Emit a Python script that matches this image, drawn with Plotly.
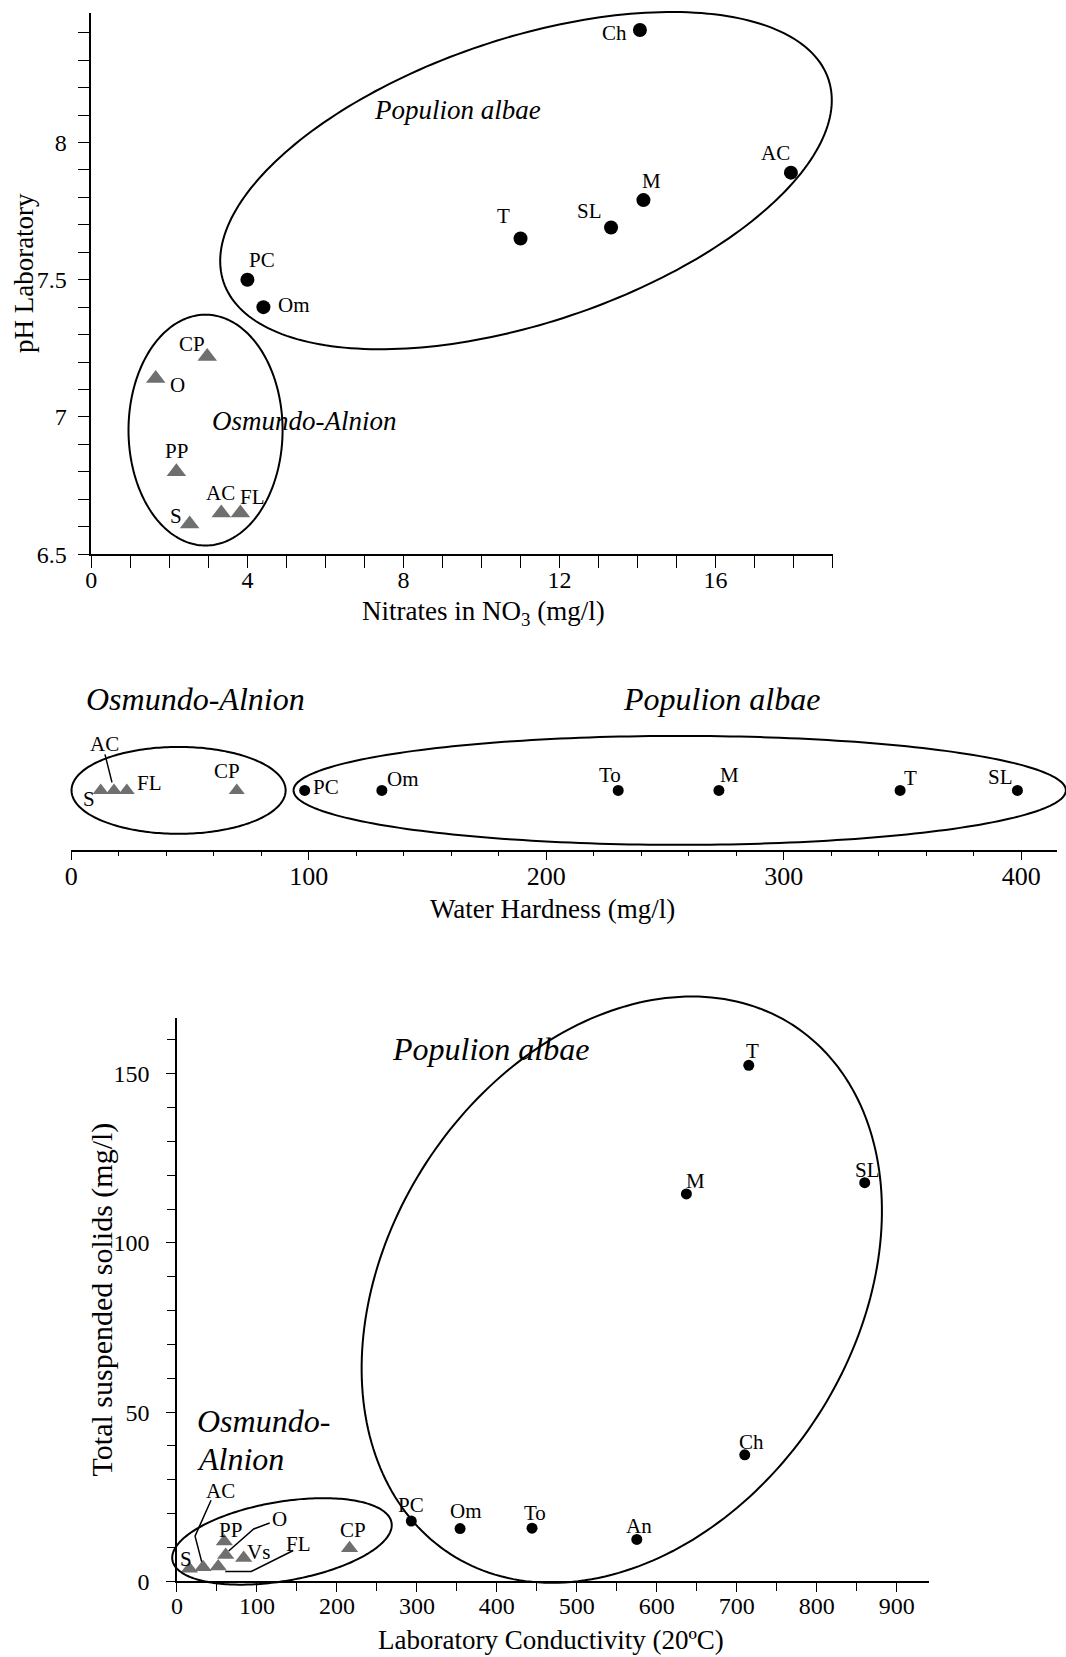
import numpy as np
import plotly.graph_objects as go

# target canvas (reference) and figure canvas
W, H = 1066, 1657
WF, HF = 1066, 1669
S, OX, OY = 0.993, 5.5, -1.0   # observed render scale/offset compensation
FONT = "Liberation Serif"
GRAY = "#6f6f6f"

# ---------------- data: top panel (nitrates vs pH) ----------------
top_pa_sites = ["Ch", "AC", "M", "SL", "T", "PC", "Om"]
top_pa_no3 = [14.06, 17.93, 14.15, 13.32, 11.0, 4.0, 4.41]
top_pa_ph = [8.41, 7.89, 7.79, 7.69, 7.65, 7.5, 7.4]
top_oa_sites = ["CP", "O", "PP", "S", "AC", "FL"]
top_oa_no3 = [2.97, 1.65, 2.18, 2.52, 3.33, 3.82]
top_oa_ph = [7.22, 7.14, 6.8, 6.61, 6.65, 6.65]

# ---------------- data: middle panel (water hardness) ----------------
mid_oa_sites = ["S", "AC", "FL", "CP"]
mid_oa_hard = [12.4, 18.0, 23.4, 69.7]
mid_pa_sites = ["PC", "Om", "To", "M", "T", "SL"]
mid_pa_hard = [98.3, 130.8, 230.3, 272.7, 349.0, 398.4]

# ---------------- data: bottom panel (conductivity vs TSS) ----------------
bot_oa_sites = ["S", "AC", "FL", "O", "PP", "Vs", "CP"]
bot_oa_cond = [15.5, 32.6, 51.6, 60.9, 59.2, 83.4, 215.8]
bot_oa_tss = [3.7, 4.2, 4.4, 7.8, 11.8, 6.9, 9.8]
bot_pa_sites = ["PC", "Om", "To", "An", "Ch", "M", "T", "SL"]
bot_pa_cond = [293, 354, 444, 575, 710, 637, 715, 860]
bot_pa_tss = [17.8, 15.6, 15.7, 12.4, 37.4, 114.5, 152.5, 117.8]

# ---------------- layout geometry (target pixels) ----------------
P = {
    "top": dict(x0=89.8, x1=830.8, yt=12.5, yb=553.6, xr=(0, 19), yr=(6.5, 8.47), ax="x", ay="y"),
    "mid": dict(x0=69.7, x1=1054.9, yt=680, yb=849.4, xr=(0, 415), yr=(-0.3506, 0.6494), ax="x2", ay="y2"),
    "bot": dict(x0=175.4, x1=926.8, yt=1017.4, yb=1581.6, xr=(0, 940), yr=(0, 166.6), ax="x3", ay="y3"),
}

# label offsets in pixels (dx right, dy down)
top_pa_off = [(-25, 3), (-15, -20), (8, -19), (-21, -16), (-17, -22), (14, -20), (30, -2)]
top_oa_off = [(-15, -12), (22, 6), (0, -21), (-14, -8), (-1, -20), (12, -16)]
mid_oa_off = [(-12, 9), (-9, -46), (23, -7), (-10, -19)]
mid_pa_off = [(21, -3), (21, -11), (-8, -15), (11, -15), (10, -12), (-17, -13)]
bot_oa_off = [(-3, -10), (17, -76), (80, -22), (53, -36), (6, -11), (15, -6), (3, -18)]
bot_pa_off = [(0, -16), (6, -17), (3, -15), (2, -13), (7, -13), (9, -13), (4, -14), (3, -13)]


def fx(t):
    return (t - OX) / S


def fy(t):
    return (t - OY) / S


def geom(p):
    ppx = (p["x1"] - p["x0"]) / (p["xr"][1] - p["xr"][0])
    ppy = (p["yb"] - p["yt"]) / (p["yr"][1] - p["yr"][0])
    return ppx, ppy


def to_paper(p, xs, ys):
    ppx, ppy = geom(p)
    tx = p["x0"] + (np.asarray(xs) - p["xr"][0]) * ppx
    ty = p["yb"] - (np.asarray(ys) - p["yr"][0]) * ppy
    return fx(tx) / WF, 1 - fy(ty) / HF


def ellipse(p, cx, cy, a, b, theta):
    ppx, ppy = geom(p)
    t = np.linspace(0, 2 * np.pi, 241)
    th = np.radians(theta)
    dx = a * np.cos(th) * np.cos(t) - b * np.sin(th) * np.sin(t)
    dy = a * np.sin(th) * np.cos(t) + b * np.cos(th) * np.sin(t)
    return cx + dx / ppx, cy + dy / ppy


def leader(p, x, y, pts):
    ppx, ppy = geom(p)
    return [x + dx / ppx for dx, dy in pts], [y - dy / ppy for dx, dy in pts]


fig = go.Figure()
annotations = []
shapes = []


def add_points(panel, xs, ys, sites, offs, symbol, size, color):
    p = P[panel]
    fig.add_trace(go.Scatter(x=xs, y=ys, mode="markers", xaxis=p["ax"], yaxis=p["ay"],
                             marker=dict(symbol=symbol, size=size, color=color, line=dict(width=0)),
                             cliponaxis=False, showlegend=False, hoverinfo="skip"))
    for x, y, s, (dx, dy) in zip(xs, ys, sites, offs):
        annotations.append(dict(x=x, y=y, xref=p["ax"], yref=p["ay"], text=s, showarrow=False,
                                xshift=dx / S, yshift=-dy / S, font=dict(family=FONT, size=21, color="black")))


def add_ellipse(panel, cx, cy, a, b, theta):
    # drawn in paper coordinates so that it is not clipped by the plot area
    p = P[panel]
    ex, ey = ellipse(p, cx, cy, a, b, theta)
    px_, py_ = to_paper(p, ex, ey)
    path = "M " + " L ".join(f"{u:.5f},{v:.5f}" for u, v in zip(px_, py_)) + " Z"
    shapes.append(dict(type="path", xref="paper", yref="paper", path=path,
                       line=dict(color="black", width=2), fillcolor="rgba(0,0,0,0)", layer="above"))


def add_leader(panel, x, y, pts):
    p = P[panel]
    lx, ly = leader(p, x, y, pts)
    fig.add_trace(go.Scatter(x=lx, y=ly, mode="lines", xaxis=p["ax"], yaxis=p["ay"],
                             line=dict(color="black", width=1.5), cliponaxis=False,
                             showlegend=False, hoverinfo="skip"))


# ---- top panel
add_ellipse("top", 11.14, 7.861, 318.9, 142.2, 18.57)
add_ellipse("top", 2.927, 6.952, 77, 115.5, 0)
add_points("top", top_pa_no3, top_pa_ph, top_pa_sites, top_pa_off, "circle", 14, "black")
add_points("top", top_oa_no3, top_oa_ph, top_oa_sites, top_oa_off, "triangle-up", 17, GRAY)

# ---- middle panel
mid_oa_y = [0] * len(mid_oa_hard)
mid_pa_y = [0] * len(mid_pa_hard)
add_ellipse("mid", 45.2, 0, 107, 43.5, 0)
add_ellipse("mid", 256.2, 0, 386, 54.5, 0)
add_leader("mid", mid_oa_hard[1], 0, [(-9, -36), (-2, -8)])
add_points("mid", mid_oa_hard, mid_oa_y, mid_oa_sites, mid_oa_off, "triangle-up", 14, GRAY)
add_points("mid", mid_pa_hard, mid_pa_y, mid_pa_sites, mid_pa_off, "circle", 11, "black")

# ---- bottom panel
add_ellipse("bot", 131.3, 11.8, 111.1, 39.6, 9.7)
add_ellipse("bot", 556.2, 86.2, 315.2, 233.1, 57.1)
add_leader("bot", bot_oa_cond[1], bot_oa_tss[1], [(8, -67), (-8, -31), (-1, -4)])
add_leader("bot", bot_oa_cond[2], bot_oa_tss[2], [(75, -16), (33, 5), (7, 5)])
add_leader("bot", bot_oa_cond[3], bot_oa_tss[3], [(44, -32), (28, -26), (3, -4)])
add_points("bot", bot_oa_cond, bot_oa_tss, bot_oa_sites, bot_oa_off, "triangle-up", 15, GRAY)
add_points("bot", bot_pa_cond, bot_pa_tss, bot_pa_sites, bot_pa_off, "circle", 11, "black")


def it(text, x, y, xref, yref, size, xanchor="center"):
    annotations.append(dict(x=x, y=y, xref=xref, yref=yref, text="<i>" + text + "</i>", showarrow=False,
                            xanchor=xanchor, align="left",
                            font=dict(family=FONT, size=size, color="black")))


# community labels
it("Populion albae", 9.39, 8.119, "x", "y", 27)
it("Osmundo-Alnion", 5.47, 6.985, "x", "y", 27)
it("Osmundo-Alnion", 52.5, 1 - fy(698.3) / HF, "x2", "paper", 32)
it("Populion albae", 273.7, 1 - fy(698.3) / HF, "x2", "paper", 32)
it("Populion albae", 392.5, 157.2, "x3", "y3", 32)
it("Osmundo-", 22.4, 47.3, "x3", "y3", 32, xanchor="left")
it("Alnion", 22.4, 36.1, "x3", "y3", 32, xanchor="left")


def title(text, xpx, ypx, angle=0, size=27):
    annotations.append(dict(x=fx(xpx) / WF, y=1 - fy(ypx) / HF, xref="paper", yref="paper", text=text,
                            showarrow=False, textangle=angle, xanchor="center", yanchor="middle",
                            font=dict(family=FONT, size=size, color="black")))


title("pH Laboratory", 23.2, 272.6, -90)
title("Nitrates in NO<sub>3</sub> (mg/l)", 482, 612.8)
title("Water Hardness (mg/l)", 550.4, 908.6)
title("Total suspended solids (mg/l)", 101.4, 1299.5, -90, size=30)
title("Laboratory Conductivity (20ºC)", 549, 1640)


def axis(p, which, dtick, mdtick, tick0=0, tl=9, mtl=6, fs=23, standoff=0):
    if which == "x":
        dom = [fx(p["x0"]) / WF, fx(p["x1"]) / WF]
        rng = list(p["xr"])
        anchor = p["ay"]
    else:
        dom = [1 - fy(p["yb"]) / HF, 1 - fy(p["yt"]) / HF]
        rng = list(p["yr"])
        anchor = p["ax"]
    return dict(domain=dom, range=rng, anchor=anchor, dtick=dtick, tick0=tick0,
                showline=True, linecolor="black", linewidth=1.5, mirror=False,
                ticks="outside", ticklen=tl, tickwidth=1.4, tickcolor="black",
                ticklabelstandoff=standoff,
                showgrid=False, zeroline=False, fixedrange=True,
                tickfont=dict(family=FONT, size=fs, color="black"),
                minor=dict(dtick=mdtick, tick0=tick0, ticks="outside", ticklen=mtl, tickwidth=1.2,
                           tickcolor="black", showgrid=False))


ya2 = axis(P["mid"], "y", 1, 1)
ya2.update(visible=False)

fig.update_layout(
    width=WF, height=HF, autosize=False,
    margin=dict(l=0, r=0, t=0, b=0),
    paper_bgcolor="white", plot_bgcolor="white",
    showlegend=False,
    xaxis=axis(P["top"], "x", 4, 1, tl=12, mtl=12, fs=24, standoff=-9),
    yaxis=axis(P["top"], "y", 0.5, 0.1, tick0=6.5, tl=12, mtl=12, fs=24, standoff=6),
    xaxis2=axis(P["mid"], "x", 100, 20, tl=9, mtl=5, fs=26, standoff=-7),
    yaxis2=ya2,
    xaxis3=axis(P["bot"], "x", 100, 50, tl=9, mtl=8, fs=24, standoff=-7),
    yaxis3=axis(P["bot"], "y", 50, 10, tl=9, mtl=8, fs=24, standoff=12),
    annotations=annotations,
    shapes=shapes,
)

fig.write_html("out.html", config={"displayModeBar": False},
               post_script="document.body.style.margin='0px';document.body.style.overflow='hidden';")
